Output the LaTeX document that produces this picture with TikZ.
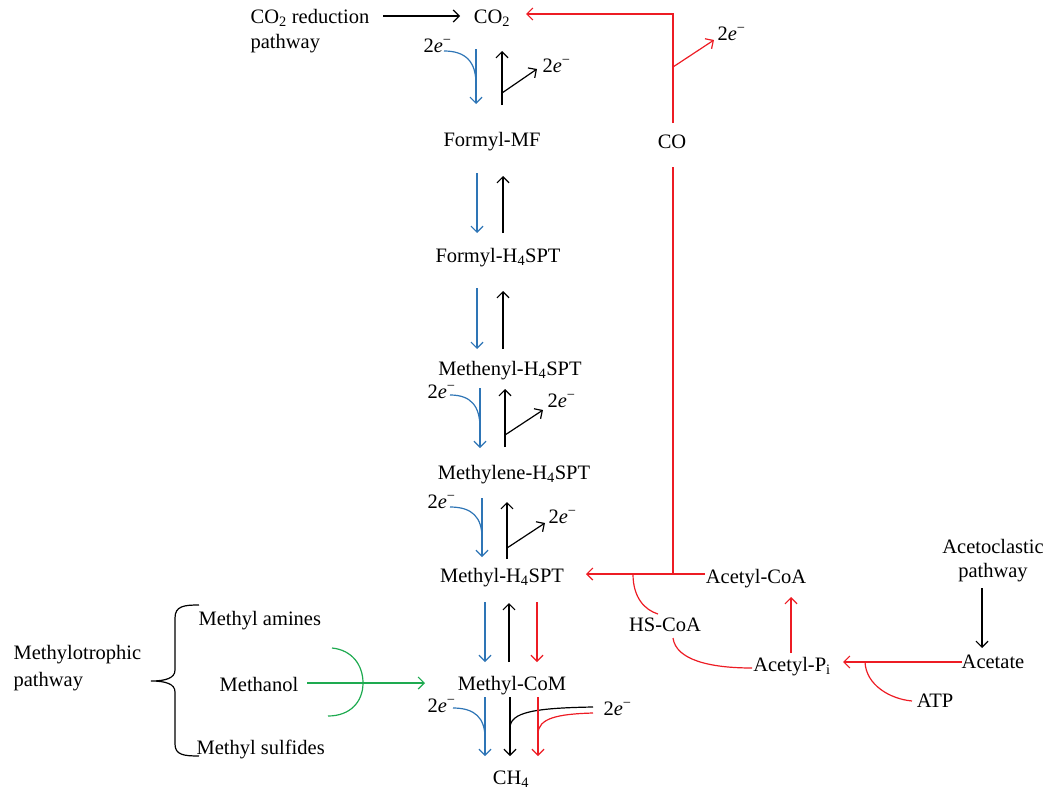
\documentclass[tikz,border=0pt]{standalone}
\usepackage{fontspec}
\setmainfont{Liberation Serif}
\usetikzlibrary{arrows.meta}
\definecolor{cblue}{RGB}{46,117,182}
\definecolor{cred}{RGB}{237,28,36}
\definecolor{cgreen}{RGB}{30,170,80}
\newcommand{\tE}{2\textit{e}\textsuperscript{−}}
\begin{document}
\begin{tikzpicture}[x=1pt,y=-1pt,line width=1.2pt,
  lbl/.style={inner sep=0pt,anchor=base,font=\fontsize{20.5}{24}\selectfont},
  lblw/.style={lbl,anchor=base west},
  arr/.style={-{Straight Barb[length=6pt,width=12pt]}},
  bl/.style={cblue},
  rd/.style={cred},
  gr/.style={cgreen}]
\useasboundingbox (0,0) rectangle (1045,790);
% ---------- main column ----------
\node[lblw] (co2red) at (250,23) {CO\textsubscript{2} reduction};
\node[lblw] (co2redb) at (250,48) {pathway};
\node[lbl] (co2) at (492,23) {CO\textsubscript{2}};
\node[lbl] (fmf) at (492,146) {Formyl-MF};
\node[lbl] (fh4) at (498,262) {Formyl-H\textsubscript{4}SPT};
\node[lbl] (menyl) at (510,375) {Methenyl-H\textsubscript{4}SPT};
\node[lbl] (mlene) at (514,479) {Methylene-H\textsubscript{4}SPT};
\node[lbl] (mh4) at (502,582) {Methyl-H\textsubscript{4}SPT};
\node[lbl] (mcom) at (512,690) {Methyl-CoM};
\node[lbl] (ch4) at (511,784) {CH\textsubscript{4}};
% 2e- labels
\node[lblw] (e1) at (423,52) {\tE};
\node[lblw] (e2) at (542,72) {\tE};
\node[lblw] (e3) at (427,398) {\tE};
\node[lblw] (e4) at (547,407) {\tE};
\node[lblw] (e5) at (427,508) {\tE};
\node[lblw] (e6) at (548,523) {\tE};
\node[lblw] (e7) at (427,712) {\tE};
\node[lblw] (e8) at (603,715) {\tE};
\node[lblw] (e9) at (717,40) {\tE};
% CO2 reduction arrow
\draw[arr] (383,16) -- (460,16);
% CO2 <-> Formyl-MF
\draw[bl,arr] (476,49) -- (476,104);
\draw[bl] (444,51) .. controls (466,51) and (476,62) .. (476,84);
\draw[arr] (502,105) -- (502,51);
\draw[arr] (502,93) -- (537,69);
% Formyl-MF <-> Formyl-H4SPT
\draw[bl,arr] (477,173) -- (477,233);
\draw[arr] (503,233) -- (503,176);
% Formyl-H4SPT <-> Methenyl
\draw[bl,arr] (477,288) -- (477,349);
\draw[arr] (503,349) -- (503,291);
% Methenyl <-> Methylene
\draw[bl,arr] (480,388) -- (480,448);
\draw[bl] (450,395) .. controls (471,395) and (480,406) .. (480,428);
\draw[arr] (505,447) -- (505,389);
\draw[arr] (505,435) -- (543,410);
% Methylene <-> Methyl-H4SPT
\draw[bl,arr] (482,498) -- (482,557);
\draw[bl] (450,507) .. controls (472,507) and (482,517) .. (482,538);
\draw[arr] (507,559) -- (507,502);
\draw[arr] (507,548) -- (545,523);
% Methyl-H4SPT <-> Methyl-CoM
\draw[bl,arr] (485,602) -- (485,662);
\draw[arr] (509,662) -- (509,603);
\draw[rd,arr] (537,602) -- (537,662);
% Methyl-CoM -> CH4
\draw[bl,arr] (485,697) -- (485,756);
\draw[bl] (453,708) .. controls (475,708) and (485,718) .. (485,738);
\draw[arr] (510,697) -- (510,756);
\draw (593,707) .. controls (535,708) and (510,712) .. (510,728);
\draw[rd,arr] (538,697) -- (538,756);
\draw[rd] (593,713) .. controls (558,714) and (538,718) .. (538,734);
% ---------- CO branch ----------
\node[lbl] (co) at (672,148) {CO};
\coordinate (cotop) at (673,14);
\draw[rd,arr] (673,123) -- (cotop) -- (526,14);
\draw[rd,arr] (673,67) -- (714,40);
\draw[rd] (673,167) -- (673,574);
% ---------- acetoclastic ----------
\node[lbl] (acoa) at (756,583) {Acetyl-CoA};
\node[lbl] (hscoa) at (665,631) {HS-CoA};
\node[lbl] (api) at (792,671) {Acetyl-P\textsubscript{i}};
\node[lbl] (acet) at (993,668) {Acetate};
\node[lbl] (atp) at (935,707) {ATP};
\node[lbl] (acl1) at (993,553) {Acetoclastic};
\node[lbl] (acl2) at (993,577) {pathway};
\draw[rd,arr] (705,574) -- (586,574);
\draw[rd] (633,574) .. controls (633,598) and (645,610) .. (658,614);
\draw[rd] (673,638) .. controls (676,660) and (710,668) .. (752,668);
\draw[rd,arr] (791,653) -- (791,597);
\draw[rd,arr] (962,662) -- (843,662);
\draw[rd] (865,662) .. controls (866,685) and (890,699) .. (912,701);
\draw[arr] (982,588) -- (982,648);
% ---------- methylotrophic ----------
\node[lblw] (mt1) at (13,659) {Methylotrophic};
\node[lblw] (mt2) at (13,686) {pathway};
\node[lblw] (mam) at (198,625) {Methyl amines};
\node[lbl] (meoh) at (259,691) {Methanol};
\node[lblw] (msulf) at (196,754) {Methyl sulfides};
\draw (199,605) .. controls (184,605) and (175,606) .. (175,618) -- (175,670)
  .. controls (175,678) and (166,681) .. (151,681)
  .. controls (166,681) and (175,684) .. (175,692) -- (175,744)
  .. controls (175,755) and (184,756) .. (199,756);
\draw[gr,arr] (307,683) -- (425,683);
\draw[gr] (332,648) .. controls (352,650) and (363,665) .. (363,683)
  .. controls (363,702) and (350,716) .. (328,716);
\end{tikzpicture}
\end{document}
